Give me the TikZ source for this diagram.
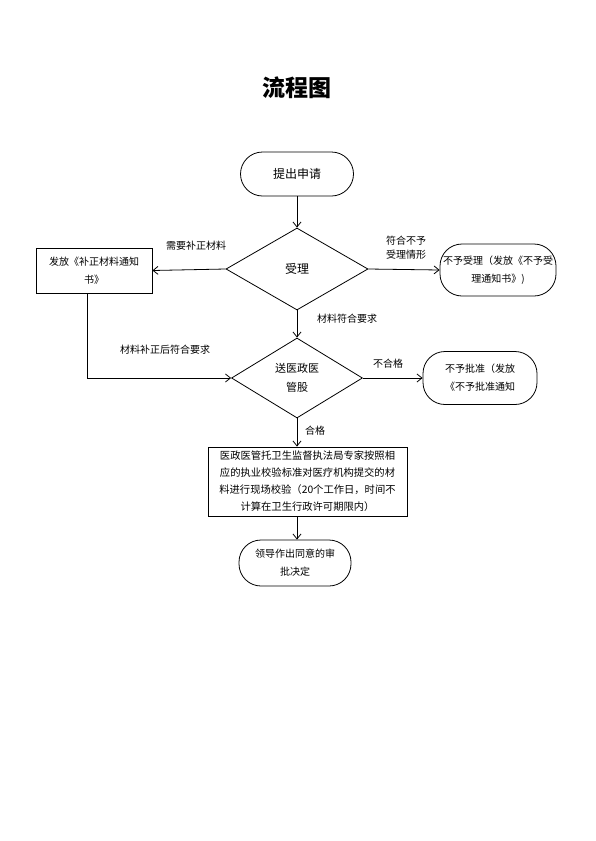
\documentclass[tikz,border=0pt]{standalone}
\usepackage{fontspec}
\setmainfont{Noto Sans CJK SC}
\usetikzlibrary{shapes.geometric,arrows.meta}
\begin{document}
\begin{tikzpicture}[x=1pt,y=-1pt,
  font=\fontsize{10}{18}\selectfont,
  line width=0.8pt,
  every node/.style={inner sep=1pt},
  arr/.style={-{Straight Barb[length=5pt,width=8pt]}},
  term/.style={draw,rounded corners=22pt,align=center},
  proc/.style={draw,align=center},
  dec/.style={draw,diamond,inner sep=0pt,align=center},
  lbl/.style={font=\fontsize{10}{14}\selectfont,align=center}]
\useasboundingbox (0,0) rectangle (595,841);
\node[font=\fontsize{23}{26}\selectfont\bfseries] (title) at (297,88) {流程图};
\node[term,minimum width=113pt,minimum height=44pt,font=\fontsize{12}{16}\selectfont] (start) at (297,174) {提出申请};
\node[dec,minimum width=142pt,minimum height=82pt,font=\fontsize{12}{16}\selectfont] (acc) at (297,269) {受理};
\node[proc,minimum width=116pt,minimum height=45pt] (supp) at (94,270.5) {发放《补正材料通知\\书》};
\node[term,minimum width=116pt,minimum height=52pt] (rej1) at (498,270) {不予受理（发放《不予受\\理通知书》)};
\node[dec,minimum width=131pt,minimum height=80pt,font=\fontsize{11}{19}\selectfont] (chk) at (297,378) {送医政医\\管股};
\node[term,minimum width=114pt,minimum height=53pt] (rej2) at (480,378) {不予批准（发放\\《不予批准通知};
\node[proc,minimum width=199pt,minimum height=69pt,font=\fontsize{10.3}{17}\selectfont] (insp) at (307.5,481.5) {医政医管托卫生监督执法局专家按照相\\应的执业校验标准对医疗机构提交的材\\料进行现场校验（20个工作日，时间不\\计算在卫生行政许可期限内）};
\node[term,minimum width=112pt,minimum height=46pt] (fin) at (295,563) {领导作出同意的审\\批决定};
\node[lbl] (l1) at (196,246) {需要补正材料};
\node[lbl] (l2) at (406,248) {符合不予\\受理情形};
\node[lbl] (l3) at (347,319) {材料符合要求};
\node[lbl] (l4) at (165,350) {材料补正后符合要求};
\node[lbl] (l5) at (388,364) {不合格};
\node[lbl] (l6) at (315,431) {合格};
\coordinate (sb) at (87,293);
\draw[arr] (start) -- (acc.north);
\draw[arr] (acc.west) -- (supp.east);
\draw[arr] (acc.east) -- (rej1.west);
\draw[arr] (acc.south) -- (chk.north);
\draw[arr] (sb) |- (chk.west);
\draw[arr] (chk.east) -- (rej2.west);
\draw[arr] (chk.south) -- (chk.south |- insp.north);
\draw[arr] (chk.south |- insp.south) -- (chk.south |- fin.north);
\end{tikzpicture}
\end{document}
